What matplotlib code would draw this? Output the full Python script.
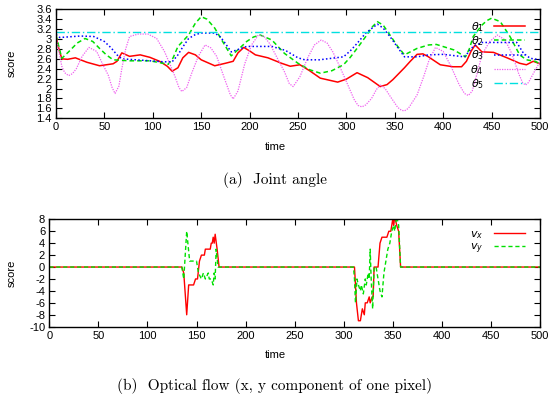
import matplotlib
matplotlib.use('Agg')
import matplotlib.pyplot as plt
from matplotlib.ticker import MultipleLocator, FormatStrFormatter

plt.rcParams['font.family'] = ['Liberation Sans', 'DejaVu Sans']
plt.rcParams['axes.unicode_minus'] = False
plt.rcParams['mathtext.fontset'] = 'dejavusans'

# (a) joint angles
t1 = [0, 3, 6, 12, 20, 32, 45, 59, 63, 68, 76, 87, 97, 107, 115, 120, 126, 131, 137, 144,
      150, 164, 175, 183, 188, 194, 200, 206, 219, 233, 242, 252, 262, 273, 291, 300, 311,
      322, 335, 342, 348, 360, 366, 373, 379, 384, 397, 410, 419, 424, 429, 433, 440, 452,
      466, 479, 486, 493, 500]
theta1 = [3.05, 2.8, 2.6, 2.59, 2.62, 2.53, 2.46, 2.50, 2.55, 2.72, 2.65, 2.68, 2.63, 2.55,
          2.45, 2.35, 2.42, 2.62, 2.73, 2.68, 2.58, 2.46, 2.51, 2.55, 2.72, 2.83, 2.76, 2.68,
          2.62, 2.51, 2.45, 2.48, 2.36, 2.21, 2.13, 2.19, 2.32, 2.22, 2.04, 2.08, 2.18, 2.42,
          2.55, 2.69, 2.70, 2.65, 2.48, 2.44, 2.44, 2.55, 2.76, 2.88, 2.74, 2.73, 2.62, 2.51,
          2.48, 2.55, 2.50]

t2 = [0, 6, 13, 22, 30, 38, 45, 52, 59, 76, 97, 116, 121, 126, 137, 144, 150, 156, 164, 173,
      181, 189, 197, 204, 211, 223, 236, 250, 262, 273, 285, 297, 304, 311, 320, 327, 332, 338,
      345, 353, 360, 373, 385, 393, 411, 423, 427, 431, 440, 445, 450, 459, 469, 479, 486, 495,
      500]
theta2 = [3.08, 2.61, 2.74, 2.92, 3.01, 2.95, 2.81, 2.68, 2.58, 2.56, 2.56, 2.49, 2.62, 2.85,
          3.08, 3.32, 3.45, 3.40, 3.22, 2.92, 2.66, 2.80, 2.95, 3.04, 3.08, 2.98, 2.71, 2.51,
          2.38, 2.31, 2.36, 2.48, 2.63, 2.81, 3.05, 3.25, 3.35, 3.28, 3.08, 2.85, 2.68, 2.81,
          2.88, 2.89, 2.78, 2.64, 2.80, 3.05, 3.28, 3.37, 3.42, 3.35, 3.05, 2.68, 2.58, 2.55,
          2.50]

t3 = [0, 4, 25, 39, 50, 57, 63, 68, 90, 111, 120, 126, 131, 137, 144, 150, 164, 170, 175,
      181, 197, 223, 237, 250, 257, 272, 297, 304, 311, 320, 332, 338, 345, 353, 360, 373, 385,
      400, 422, 431, 440, 476, 483, 490, 500]
theta3 = [3.09, 3.03, 3.06, 3.05, 2.95, 2.82, 2.68, 2.60, 2.57, 2.54, 2.54, 2.68, 2.84, 3.01,
          3.09, 3.12, 3.12, 3.04, 2.91, 2.74, 2.85, 2.85, 2.77, 2.62, 2.58, 2.58, 2.64, 2.76,
          2.91, 3.12, 3.30, 3.22, 3.05, 2.83, 2.64, 2.64, 2.68, 2.69, 2.64, 2.85, 2.93, 2.93,
          2.71, 2.61, 2.58]

t4 = [0, 3, 6, 9, 13, 17, 21, 27, 34, 42, 48, 54, 58, 61, 65, 68, 72, 76, 85, 95, 104, 112,
      118, 123, 127, 130, 135, 140, 147, 154, 160, 166, 175, 180, 183, 188, 195, 202, 209, 215,
      221, 229, 236, 241, 245, 252, 260, 267, 274, 280, 286, 293, 300, 308, 312, 316, 320, 326,
      331, 335, 340, 345, 353, 357, 360, 364, 373, 380, 385, 392, 400, 408, 416, 422, 426, 430,
      435, 440, 448, 456, 464, 471, 478, 482, 485, 488, 495, 500]
theta4 = [3.05, 2.75, 2.45, 2.32, 2.26, 2.3, 2.4, 2.65, 2.83, 2.75, 2.5, 2.27, 2.02, 1.90,
          2.05, 2.4, 2.8, 3.05, 3.1, 3.1, 3.01, 2.75, 2.48, 2.24, 2.02, 1.94, 2.02, 2.3, 2.65,
          2.88, 2.82, 2.65, 2.15, 1.88, 1.79, 1.95, 2.5, 2.88, 3.08, 3.05, 2.9, 2.6, 2.34, 2.1,
          2.04, 2.24, 2.62, 2.88, 2.98, 2.92, 2.74, 2.45, 2.14, 1.78, 1.66, 1.63, 1.67, 1.8,
          1.98, 2.07, 2.0, 1.85, 1.62, 1.56, 1.55, 1.6, 1.87, 2.25, 2.55, 2.83, 2.75, 2.45,
          2.1, 1.9, 1.86, 1.95, 2.3, 2.68, 2.95, 3.08, 2.98, 2.7, 2.3, 2.12, 2.07, 2.12, 2.37,
          2.54]

t5 = [0, 500]
theta5 = [3.14, 3.14]

# (b) optical flow of one pixel
tx = [0, 135, 137, 140, 142, 147, 149, 151, 153, 155, 158, 159, 164, 165, 166, 167, 168, 169,
      171, 173, 310, 311, 313, 315, 317, 319, 321, 322, 324, 326, 327, 329, 330, 331, 335,
      337, 339, 344, 346, 348, 350, 351, 352, 354, 356, 358, 500]
vx = [0, 0, -1, -8, -3, -3, -2, -2, 1, 2, 2, 3, 3, 4, 4, 5, 4, 5.5, 3, 0, 0, 0, -6, -9, -9,
      -7, -8, -6, -6, -5, -6, -5, -5, 0, 0, 4, 5, 5, 6, 6, 8, 7, 8.5, 7, 6, 0, 0]

ty = [0, 135, 137, 140, 143, 150, 152, 155, 157, 159, 162, 163, 165, 167, 168, 169, 170, 172,
      310, 311, 312, 313.5, 315, 317, 318, 320, 322, 323, 325, 326, 327, 328, 329.5, 331, 333,
      335, 337, 339, 340, 341, 343, 345, 347, 349, 351, 352, 354, 356, 358, 500]
vy = [0, 0, -2, 6, 1, 1, -1, -2, -1, -2, -1, -2, -2, -3, -1, -2, 3, 0, 0, -2, -6, -2, -3, -4,
      -3, -4.5, -2, -3, -1, -2, 3, -2, -7, 0, 0, -2, -4, -5, -3, -1, 1, 3, 4, 6, 7, 6, 8.5, 7,
      0, 0]


def gnuplot_axes(ax):
    ax.tick_params(direction='in', top=True, right=True, length=4, width=0.8,
                   labelsize=8, pad=3)
    for s in ax.spines.values():
        s.set_linewidth(1.0)
    ax.set_xlim(0, 500)
    ax.xaxis.set_major_locator(MultipleLocator(50))


fig = plt.figure(figsize=(5.5, 4.03), dpi=100)

ax1 = fig.add_axes([0.1018, 0.7065, 0.88, 0.2705])
ax1.plot(t1, theta1, color='#ff0000', lw=1.1, label=r'$\theta_1$')
ax1.plot(t2, theta2, color='#00e000', lw=1.1, ls=(0, (3, 2)), label=r'$\theta_2$')
ax1.plot(t3, theta3, color='#0000ff', lw=1.1, ls=(0, (1, 1.5)), label=r'$\theta_3$')
ax1.plot(t4, theta4, color='#f060f0', lw=0.9, ls=(0, (1, 1)), label=r'$\theta_4$')
ax1.plot(t5, theta5, color='#00e0e0', lw=1.0, ls=(0, (6, 2, 1, 2)), label=r'$\theta_5$')
gnuplot_axes(ax1)
ax1.set_ylim(1.4, 3.6)
ax1.yaxis.set_major_locator(MultipleLocator(0.2))
ax1.yaxis.set_major_formatter(FormatStrFormatter('%g'))
ax1.legend(loc='upper right', bbox_to_anchor=(0.985, 0.975), frameon=False, fontsize=8,
           markerfirst=False, handlelength=2.8, handletextpad=0.9, labelspacing=0.05,
           borderpad=0.2)

ax2 = fig.add_axes([0.0897, 0.1893, 0.892, 0.2665])
ax2.plot(tx, vx, color='#ff0000', lw=1.0, label=r'$v_x$')
ax2.plot(ty, vy, color='#00e000', lw=1.0, ls=(0, (3, 2)), label=r'$v_y$')
gnuplot_axes(ax2)
ax2.set_ylim(-10, 8)
ax2.yaxis.set_major_locator(MultipleLocator(2))
ax2.legend(loc='upper right', bbox_to_anchor=(0.985, 0.98), frameon=False, fontsize=8,
           markerfirst=False, handlelength=2.8, handletextpad=0.9, labelspacing=0.05,
           borderpad=0.2)

# axis titles and captions
fig.text(0.5, 1 - 147 / 403, 'time', ha='center', va='center', fontsize=8)
fig.text(0.5, 1 - 355 / 403, 'time', ha='center', va='center', fontsize=8)
fig.text(12 / 550, 1 - 63 / 403, 'score', ha='center', va='center', rotation=90, fontsize=8)
fig.text(12 / 550, 1 - 273 / 403, 'score', ha='center', va='center', rotation=90, fontsize=8)
fig.text(0.5, 1 - 180 / 403, '(a)  Joint angle', ha='center', va='center',
         fontsize=11, family='cmr10')
fig.text(0.5, 1 - 386 / 403, '(b)  Optical flow (x, y component of one pixel)',
         ha='center', va='center', fontsize=11, family='cmr10')

fig.savefig('out.png', dpi=100)
